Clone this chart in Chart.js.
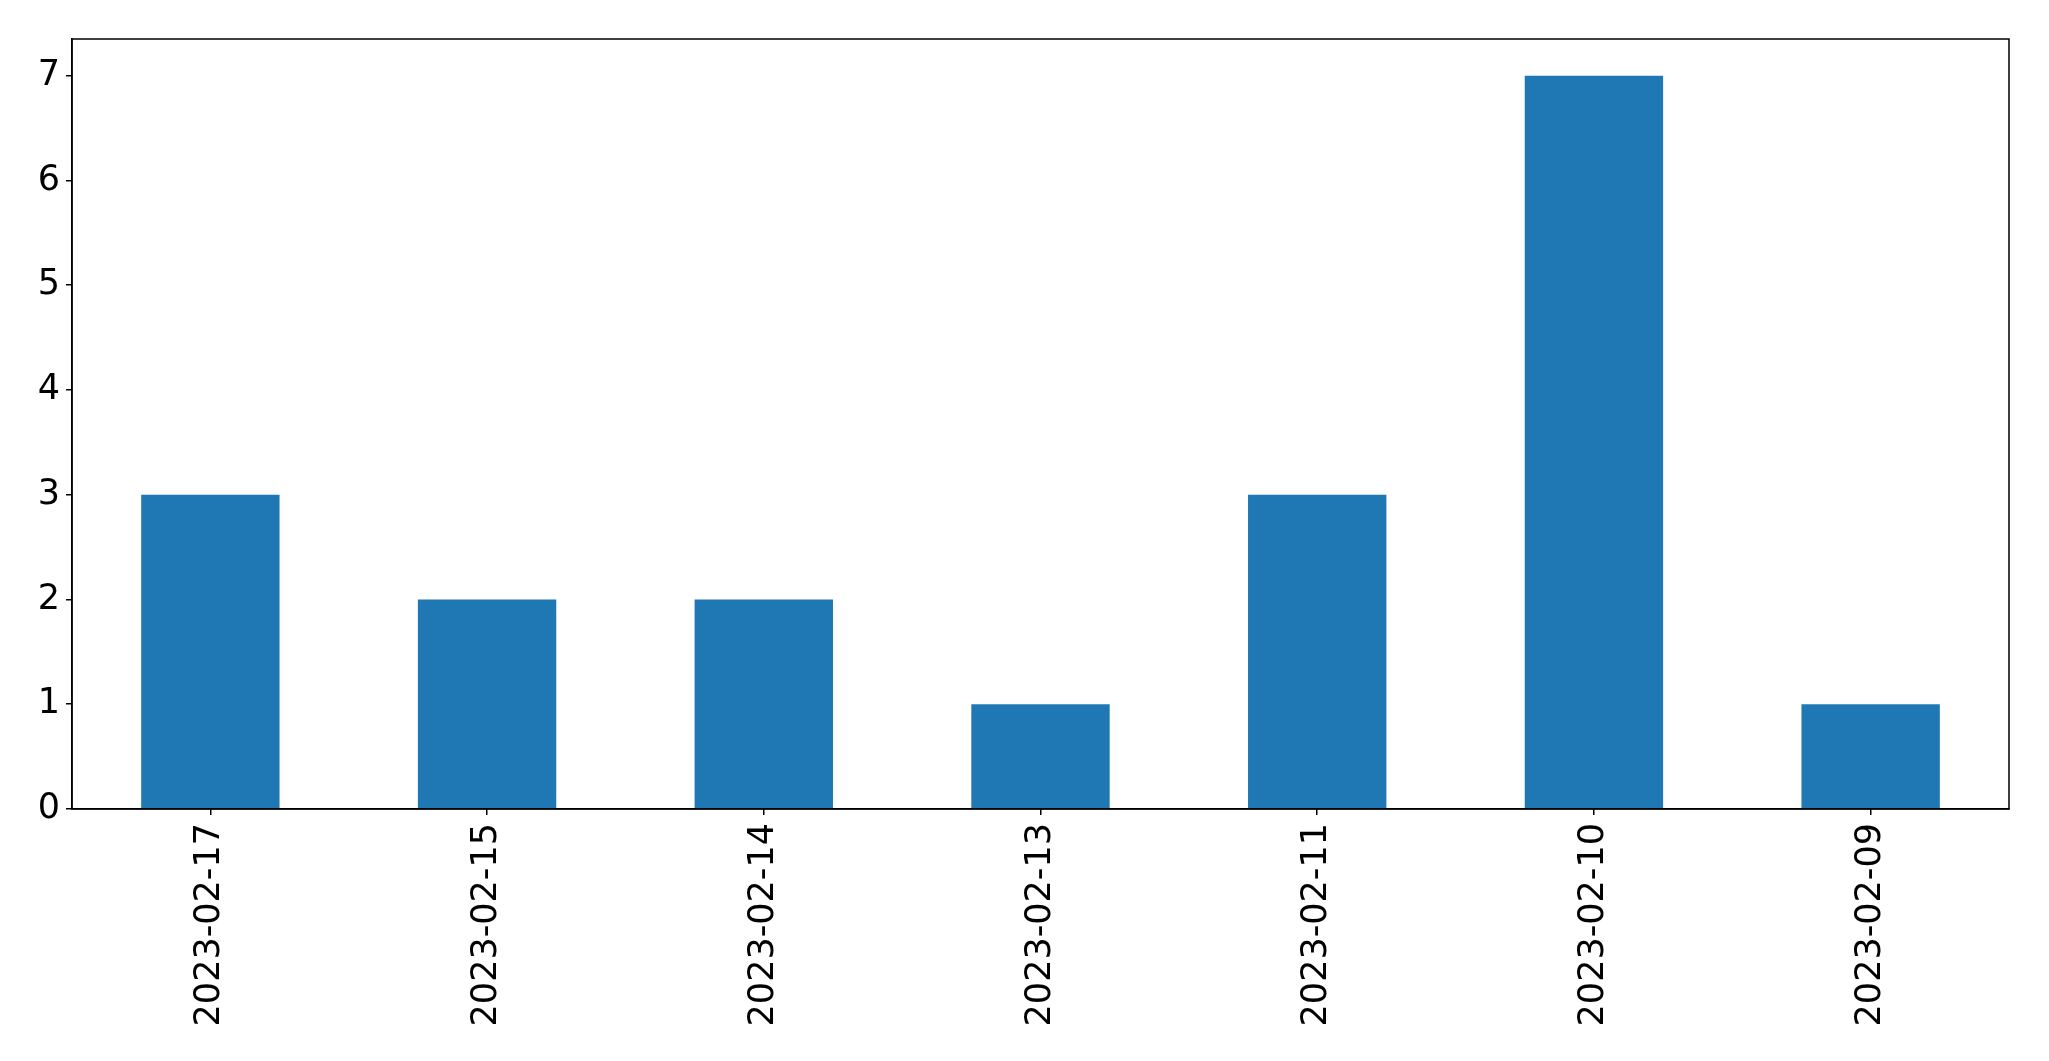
<!DOCTYPE html>
<html>
<head>
<meta charset="utf-8">
<script src="https://cdn.jsdelivr.net/npm/chart.js@4"></script>
<style>
    html, body { margin: 0; padding: 0; background: #fff; }
    #wrap { width: 2049px; height: 1061px; }
</style>
</head>
<body>
<div id="wrap"><canvas id="barChart" width="2049" height="1061"></canvas></div>
<script>
// chart data
const dates = ['2023-02-17', '2023-02-15', '2023-02-14', '2023-02-13', '2023-02-11', '2023-02-10', '2023-02-09'];
const counts = [3, 2, 2, 1, 3, 7, 1];
const yTicks = [0, 1, 2, 3, 4, 5, 6, 7];

const tickFont = { family: 'DejaVu Sans', size: 35 };

// draws the top and right spines like matplotlib
const frame = {
    id: 'frame',
    afterDatasetsDraw(chart) {
        const { ctx, chartArea } = chart;
        ctx.save();
        ctx.strokeStyle = '#000';
        ctx.lineWidth = 1.5;
        ctx.strokeRect(chartArea.left, chartArea.top, chartArea.right - chartArea.left, chartArea.bottom - chartArea.top);
        ctx.restore();
    }
};

Chart.defaults.animation = false;

new Chart(document.getElementById('barChart').getContext('2d'), {
    type: 'bar',
    data: {
        labels: dates,
        datasets: [{
            data: counts,
            backgroundColor: '#1f77b4',
            borderWidth: 0,
            barPercentage: 0.5,
            categoryPercentage: 1.0
        }]
    },
    options: {
        responsive: false,
        layout: { padding: { left: 0, top: 39, right: 40, bottom: 0 } },
        plugins: { legend: { display: false }, tooltip: { enabled: false } },
        scales: {
            x: {
                grid: { offset: false, drawOnChartArea: false, drawTicks: true, tickLength: 6, color: '#000', lineWidth: 1.5 },
                border: { display: true, color: '#000', width: 1.5 },
                ticks: { color: '#000', font: tickFont, minRotation: 90, maxRotation: 90, padding: 8, autoSkip: false },
                afterFit(scale) { scale.height = 252; }
            },
            y: {
                min: 0,
                max: 7.35,
                grid: { drawOnChartArea: false, drawTicks: true, tickLength: 6, color: '#000', lineWidth: 1.5 },
                border: { display: true, color: '#000', width: 1.5 },
                ticks: { color: '#000', font: tickFont, stepSize: 1, includeBounds: false, padding: 6 },
                afterBuildTicks(scale) { scale.ticks = yTicks.map(v => ({ value: v })); },
                afterFit(scale) { scale.width = 72; }
            }
        }
    },
    plugins: [frame]
});
</script>
</body>
</html>
